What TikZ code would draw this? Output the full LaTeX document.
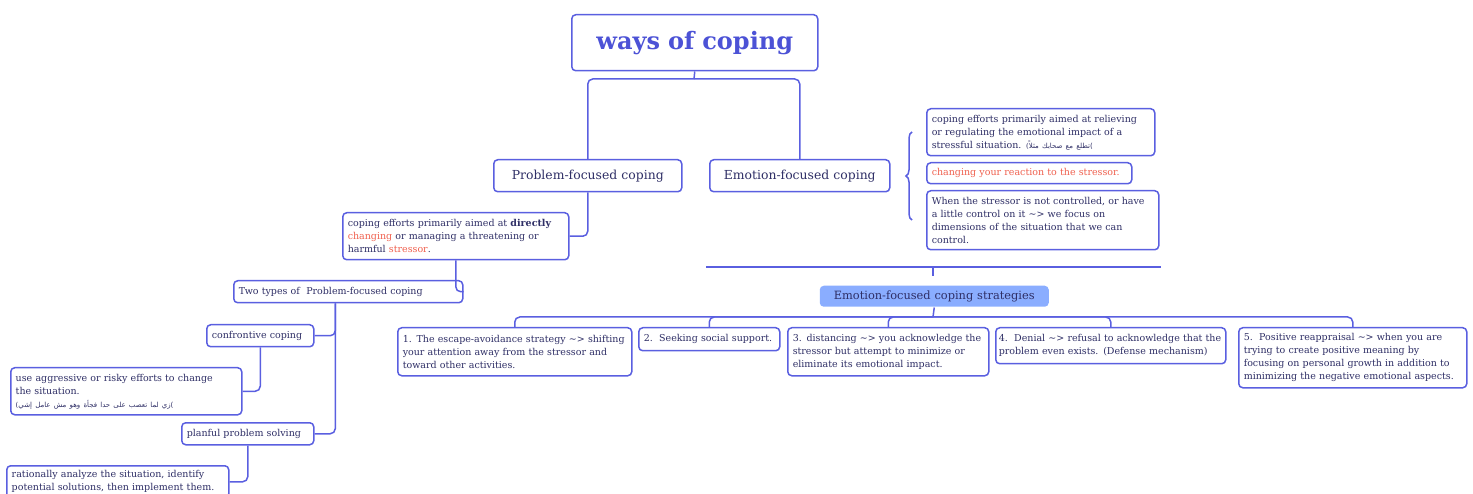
\documentclass[tikz,border=0pt]{standalone}
\usepackage{fontspec}
\setmainfont{DejaVu Serif}
\newfontfamily\arabicfont[Script=Arabic]{DejaVu Sans}
\TeXXeTstate=1
\usepackage{tikz}
\usetikzlibrary{calc, positioning, decorations.pathreplacing}
\definecolor{color_line}{HTML}{5A5FE0}
\definecolor{color_text}{HTML}{2F2F66}
\definecolor{color_title}{HTML}{4C52D6}
\definecolor{color_alert}{HTML}{F0604E}
\definecolor{color_fill}{HTML}{8AADFF}
\tikzset{
  topic_box/.style={draw=color_line, line width=1.5pt, rounded corners=4pt, fill=white, text=color_text, anchor=north west, align=left, inner xsep=5pt, inner ysep=2pt, font=\fontsize{9.5}{13}\selectfont},
  title_box/.style={topic_box, text=color_title, align=center, font=\fontsize{24}{28}\selectfont\bfseries},
  branch_box/.style={topic_box, align=center, font=\fontsize{12.4}{15}\selectfont},
  strategy_head/.style={topic_box, draw=none, fill=color_fill, align=center, font=\fontsize{11.4}{14}\selectfont},
  tree_link/.style={draw=color_line, line width=1.5pt, rounded corners=5pt},
  brace_link/.style={draw=color_line, line width=1.5pt, decorate, decoration={brace, amplitude=6pt}},
}
\newcommand{\arabicnote}[1]{{\fontsize{7}{9}\selectfont(\arabicfont\beginR #1\endR)}}
\newcommand{\alerttext}[1]{\textcolor{color_alert}{#1}}
\newcommand{\thenarrow}{\textasciitilde{}>}

\begin{document}
\begin{tikzpicture}[x=1pt, y=-1pt]
    \clip (0,0) rectangle (1473,494);
    \node[title_box, text width=236pt, minimum height=56pt] (title) at (571,14) {ways of coping};
    \node[branch_box, text width=178pt, minimum height=32pt] (pf) at (493,159) {Problem-focused coping};
    \node[branch_box, text width=170pt, minimum height=32pt] (ef) at (709,159) {Emotion-focused coping};

    \node[topic_box, text width=216pt, minimum height=47pt] (pdef) at (342,212) {coping efforts primarily aimed at \textbf{directly}\\\alerttext{changing} or managing a threatening or\\harmful \alerttext{stressor}.};
    \node[topic_box, text width=219pt, minimum height=22pt] (types) at (233,280) {Two types of\ \ Problem-focused coping};
    \node[topic_box, text width=97pt, minimum height=22pt] (conf) at (206,324) {confrontive coping};
    \node[topic_box, text width=221pt, minimum height=47pt] (agg) at (10,367) {use aggressive or risky efforts to change\\the situation.\\\arabicnote{زي لما تعصب على حدا فجأة وهو مش عامل إشي}};
    \node[topic_box, text width=122pt, minimum height=22pt] (plan) at (181,422) {planful problem solving};
    \node[topic_box, text width=212pt, minimum height=32pt] (ration) at (6,465) {rationally analyze the situation, identify\\potential solutions, then implement them.};

    \node[topic_box, text width=218pt, minimum height=47pt] (ed1) at (926,108) {coping efforts primarily aimed at relieving\\or regulating the emotional impact of a\\stressful situation. \arabicnote{تطلع مع صحابك مثلاً}};
    \node[topic_box, text width=195pt, minimum height=21pt] (ed2) at (926,162) {\alerttext{changing your reaction to the stressor.}};
    \node[topic_box, text width=222pt, minimum height=59pt] (ed3) at (926,190) {When the stressor is not controlled, or have\\a little control on it \thenarrow{} we focus on\\dimensions of the situation that we can\\control.};

    \node[strategy_head, text width=219pt, minimum height=21pt] (strat) at (819,285) {Emotion-focused coping strategies};
    \node[topic_box, text width=224pt, minimum height=48pt] (s1) at (397,327) {1. The escape-avoidance strategy \thenarrow{} shifting\\your attention away from the stressor and\\toward other activities.};
    \node[topic_box, text width=131pt, minimum height=23pt] (s2) at (638,327) {2.\ \ Seeking social support.};
    \node[topic_box, text width=191pt, minimum height=48pt] (s3) at (787,327) {3. distancing \thenarrow{} you acknowledge the\\stressor but attempt to minimize or\\eliminate its emotional impact.};
    \node[topic_box, text width=224pt, inner xsep=3pt, minimum height=36pt] (s4) at (995,327) {4.\ \ Denial \thenarrow{} refusal to acknowledge that the\\problem even exists. (Defense mechanism)};
    \node[topic_box, text width=218pt, minimum height=60pt] (s5) at (1238,327) {5.\ \ Positive reappraisal \thenarrow{} when you are\\trying to create positive meaning by\\focusing on personal growth in addition to\\minimizing the negative emotional aspects.};

    \coordinate (split) at (694,79);
    \coordinate (brace_top) at (912,132);
    \coordinate (brace_bottom) at (912,220);
    \coordinate (rule_left) at (706,267);
    \coordinate (rule_right) at (1161,267);
    \coordinate (rule_tick) at (933,276);
    \coordinate (strat_bus) at (933,317);

    \draw[tree_link] (title.south) -- (split);
    \draw[tree_link] (split) -| (pf.north);
    \draw[tree_link] (split) -| (ef.north);
    \draw[tree_link] (pf.south) |- (pdef.east);
    \draw[tree_link] (pdef.south) |- (types.east);
    \draw[tree_link] ([xshift=-13pt]types.south) |- (conf.east);
    \draw[tree_link] ([xshift=-13pt]types.south) |- (plan.east);
    \draw[tree_link] (conf.south) |- (agg.east);
    \draw[tree_link] (plan.south) |- (ration.east);
    \draw[brace_link] (brace_bottom) -- (brace_top);
    \draw[tree_link] (rule_left) -- (rule_right);
    \draw[tree_link] (rule_left -| rule_tick) -- (rule_tick);
    \draw[tree_link] (strat.south) -- (strat_bus);
    \foreach \s in {s1, s2, s3, s4, s5}
        \draw[tree_link] (strat_bus) -| (\s.north);
\end{tikzpicture}
\end{document}
